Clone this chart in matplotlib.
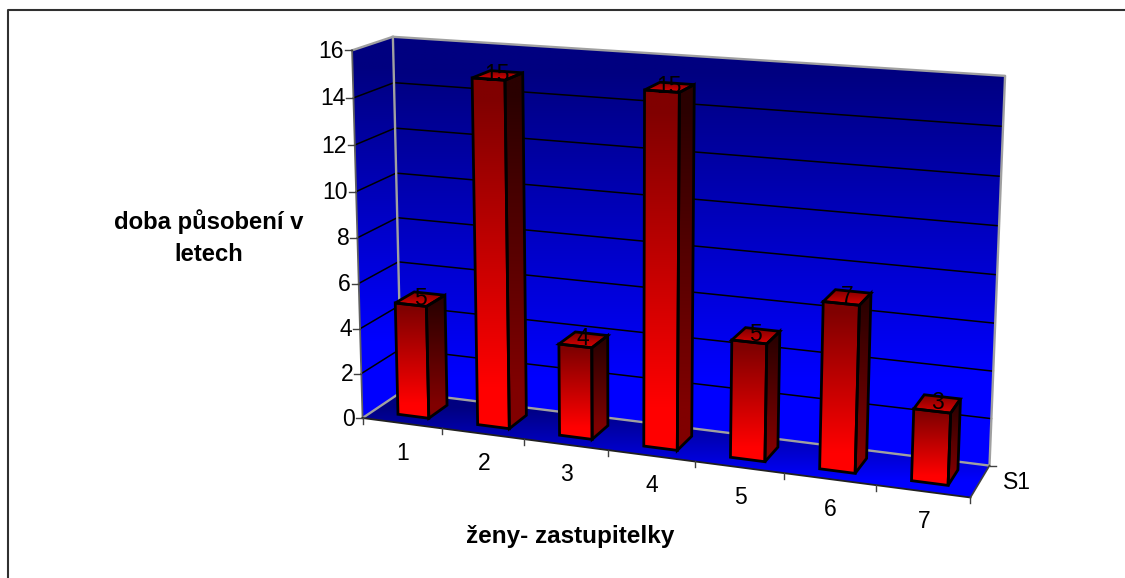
import numpy as np
import matplotlib
matplotlib.use('Agg')
import matplotlib.pyplot as plt
from matplotlib.colors import LinearSegmentedColormap
from matplotlib.patches import Polygon

categories = ['1', '2', '3', '4', '5', '6', '7']
values = [5, 15, 4, 15, 5, 7, 3]
bar_labels = ['5', '15', '4', '15', '5', '7', '3']
value_ticks = [0, 2, 4, 6, 8, 10, 12, 14, 16]
series_name = 'S1'
y_title = 'doba působení v\nletech'
x_title = 'ženy- zastupitelky'

plt.rcParams['font.family'] = ['Liberation Sans', 'DejaVu Sans']

W, H = 1125, 578
fig = plt.figure(figsize=(W / 100, H / 100), dpi=100)
ax = fig.add_axes([0, 0, 1, 1])
ax.set_xlim(0, W)
ax.set_ylim(H, 0)
ax.axis('off')

# camera fitted on the corners of the box (cat, depth, value) -> pixel
box = [
	((0, 0, 0), (364, 417)), ((7, 0, 0), (970, 499)),
	((0, 1, 0), (400, 393)), ((7, 1, 0), (990, 464)),
	((0, 0, 16), (351, 50)), ((0, 1, 16), (394, 37)),
	((7, 1, 16), (1005, 76)),
]
A = []
b = []
for (X, Y, Z), (u, v) in box:
	A.append([X, Y, Z, 1, 0, 0, 0, 0, -u * X, -u * Y, -u * Z])
	A.append([0, 0, 0, 0, X, Y, Z, 1, -v * X, -v * Y, -v * Z])
	b.extend([u, v])
P = np.linalg.lstsq(np.array(A, float), np.array(b, float), rcond=None)[0]
P = np.append(P, 1).reshape(3, 4)


def proj(x, y, z):
	r = P @ np.array([x, y, z, 1.0])
	return r[0] / r[2], r[1] / r[2]


def grad_poly(pts, c_top, c_bottom, edge=None, lw=2.0, z=2, hold=(0.06, 0.88)):
	# vertical gradient clipped to a polygon
	pts = np.array(pts)
	cmap = LinearSegmentedColormap.from_list('g', [(0, c_top), (hold[0], c_top),
		(hold[1], c_bottom), (1, c_bottom)])
	g = np.linspace(0, 1, 256).reshape(-1, 1)
	im = ax.imshow(g, cmap=cmap, aspect='auto', zorder=z, interpolation='bilinear',
		extent=(pts[:, 0].min(), pts[:, 0].max(), pts[:, 1].max(), pts[:, 1].min()))
	patch = Polygon(pts, closed=True, transform=ax.transData, fc='none', ec='none')
	ax.add_patch(patch)
	im.set_clip_path(patch)
	if edge is not None:
		ax.add_patch(Polygon(pts, closed=True, fc='none', ec=edge, lw=lw, zorder=z + 0.1,
			joinstyle='miter'))


n = len(categories)
top = value_ticks[-1]

# walls and floor
back = [proj(0, 1, 0), proj(n, 1, 0), proj(n, 1, top), proj(0, 1, top)]
side = [proj(0, 0, 0), proj(0, 1, 0), proj(0, 1, top), proj(0, 0, top)]
floor = [proj(0, 0, 0), proj(n, 0, 0), proj(n, 1, 0), proj(0, 1, 0)]
grad_poly(back, '#000080', '#0000ff', z=1, hold=(0.08, 0.8))
grad_poly(side, '#000080', '#0000ff', z=1, hold=(0.08, 0.8))
grad_poly(floor, '#000080', '#0000ff', z=1, hold=(0.15, 0.85))

# gridlines
for t in value_ticks[1:-1]:
	pts = [proj(0, 0, t), proj(0, 1, t), proj(n, 1, t)]
	ax.plot(*zip(*pts), color='black', lw=1.1, zorder=1.5)

# wall edges
wall_edge = [proj(0, 0, top), proj(0, 1, top), proj(n, 1, top), proj(n, 1, 0), proj(0, 1, 0), proj(0, 0, 0)]
ax.plot(*zip(*wall_edge), color='#a0a0a0', lw=1.7, zorder=1.6)
ax.plot(*zip(proj(0, 1, 0), proj(0, 1, top)), color='#a0a0a0', lw=1.7, zorder=1.6)

# axes lines and ticks
ax.plot(*zip(proj(0, 0, 0), proj(0, 0, top)), color='#606060', lw=1.3, zorder=1.7)
ax.plot(*zip(proj(0, 0, 0), proj(n, 0, 0)), color='#202020', lw=1.3, zorder=1.7)
ax.plot(*zip(proj(n, 0, 0), proj(n, 1, 0)), color='#404040', lw=1.2, zorder=1.7)
for t in value_ticks:
	x0, y0 = proj(0, 0, t)
	ax.plot([x0 - 7, x0], [y0, y0], color='#404040', lw=1, zorder=1.7)
	ax.text(x0 - 8, y0 + 1, str(t), ha='right', va='center', fontsize=16.5, color='black')
for i in range(n + 1):
	x0, y0 = proj(i, 0, 0)
	ax.plot([x0, x0], [y0, y0 + 6], color='#404040', lw=1, zorder=1.7)
for i, c in enumerate(categories):
	x0, y0 = proj(i + 0.5, 0, 0)
	ax.text(x0 + 1, y0 + 30, c, ha='center', va='center', fontsize=16.5, color='black')
x0, y0 = proj(n, 1, 0)
ax.plot([x0, x0 + 6], [y0, y0], color='#404040', lw=1, zorder=1.7)
x0, y0 = proj(n, 0.5, 0)
ax.text(x0 + 23, y0 + 1, series_name, ha='left', va='center', fontsize=16.5, color='black')

# bars
x_pad = 0.32
x_wid = 0.39
d0, d1 = 0.26, 0.75
for i, v in enumerate(values):
	xa = i + x_pad
	xb = xa + x_wid
	front = [proj(xa, d0, 0), proj(xb, d0, 0), proj(xb, d0, v), proj(xa, d0, v)]
	right = [proj(xb, d0, 0), proj(xb, d1, 0), proj(xb, d1, v), proj(xb, d0, v)]
	lid = [proj(xa, d0, v), proj(xb, d0, v), proj(xb, d1, v), proj(xa, d1, v)]
	zz = 3 + i
	grad_poly(front, '#800000', '#ff0000', edge='black', z=zz)
	grad_poly(right, '#2a0000', '#800000', edge='black', z=zz)
	grad_poly(lid, '#800000', '#d00000', edge='black', z=zz)
	tx, ty = proj(i + x_pad + x_wid / 2, 0.5, v)
	ax.text(tx, ty - 1, bar_labels[i], ha='center', va='center', fontsize=16.5, color='black', zorder=20)

# titles
ax.text(209, 238, y_title, ha='center', va='center', fontsize=17.2, fontweight='bold', linespacing=1.5)
ax.text(570, 536, x_title, ha='center', va='center', fontsize=17.5, fontweight='bold')

# chart frame, cut by the image edges
ax.plot([8, 8, W], [H, 10, 10], color='#303030', lw=1.5, zorder=30)

fig.savefig('out.png', dpi=100)
